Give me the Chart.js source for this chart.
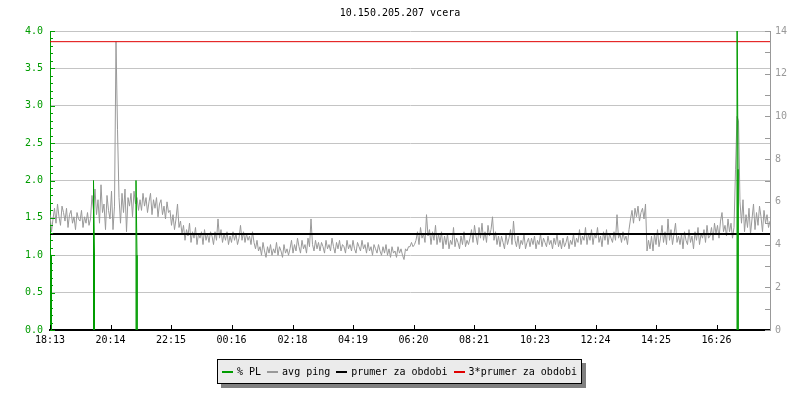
<!DOCTYPE html>
<html>
<head>
<title>10.150.205.207 vcera</title>
<script src="https://cdn.jsdelivr.net/npm/chart.js"></script>
<style>
  body { margin: 0; background: #fff; font-family: "DejaVu Sans Mono", monospace; }
  #wrap { position: relative; width: 800px; height: 400px; }
  #title { position: absolute; top: 7px; left: 0; width: 800px; text-align: center; font-size: 10px; line-height: 12px; color: #000; }
  #legend { position: absolute; left: 217px; top: 359px; height: 23px; padding: 0 4px; background: #ebebeb;
            border: 1px solid #000; box-shadow: 4px 4px 0 #808080; display: flex; align-items: center;
            font-size: 10px; white-space: nowrap; color: #000; }
  .it { display: flex; align-items: center; margin-right: 6px; }
  .it:last-child { margin-right: 0; }
  .ln { display: inline-block; width: 11px; height: 2px; margin-right: 4px; }
</style>
</head>
<body>
<div id="wrap">
  <canvas id="chart" width="800" height="400"></canvas>
  <div id="title">10.150.205.207 vcera</div>
  <div id="legend"></div>
</div>
<script>
// x axis labels (clock times, first = start of the period)
const tickLabels = ['18:13','20:14','22:15','00:16','02:18','04:19','06:20','08:21','10:23','12:24','14:25','16:26'];
const periodMinutes = 1440;

// avg ping [ms], one reading every 3 minutes from 18:13 (20 per hour)
const pingStep = 3;
const pingAvg = [
  5.4,4.6,5.2,5.7,5.0,5.9,5.3,4.9,5.8,5.5,5.1,5.7,4.8,5.4,5.6,5.0,5.3,4.7,5.5,5.2,
  5.1,5.6,4.8,5.3,5.0,5.5,4.9,5.2,6.3,5.6,6.6,5.4,6.1,5.0,6.8,5.5,5.9,4.7,6.3,5.6,
  5.2,6.5,4.7,5.8,13.5,9.4,6.2,5.0,6.4,5.5,6.6,4.6,6.2,5.8,6.4,5.3,6.5,5.9,6.2,5.6,
  6.1,5.6,6.4,5.8,6.2,5.5,6.0,6.4,5.4,6.1,5.7,6.2,5.3,5.9,6.1,5.4,5.8,5.2,6.0,5.5,
  5.6,4.9,5.4,4.7,5.2,5.9,4.8,5.1,4.5,4.9,4.2,4.7,4.4,5.0,4.1,4.6,4.3,4.8,4.0,4.5,
  4.3,4.6,4.0,4.7,4.2,4.5,4.1,4.6,4.4,4.0,4.6,4.2,5.2,4.3,4.7,4.1,4.5,4.2,4.6,4.0,
  4.4,4.1,4.6,4.2,4.5,4.0,4.3,4.9,4.2,4.6,4.1,4.5,4.2,4.4,4.0,4.6,4.1,3.8,4.2,3.7,
  3.9,3.5,4.1,3.7,3.4,3.9,3.6,4.0,3.5,3.8,3.6,4.1,3.5,3.9,3.7,3.4,4.0,3.6,3.8,3.5,
  3.8,4.2,3.6,4.0,3.7,4.3,3.9,3.6,4.2,3.8,4.0,3.6,4.3,3.9,5.2,4.0,3.7,4.2,3.8,4.1,
  3.7,4.1,3.9,3.6,4.2,3.8,4.0,3.7,4.3,3.9,3.6,4.1,3.8,4.2,3.7,4.0,3.9,3.6,4.2,3.8,
  4.0,3.7,4.2,3.8,3.6,4.1,3.9,3.7,4.2,3.8,4.0,3.6,4.1,3.7,3.9,3.5,4.0,3.8,3.6,4.0,
  3.7,3.5,3.9,3.6,4.0,3.5,3.8,3.4,3.9,3.6,3.7,3.4,3.9,3.6,3.8,3.5,3.3,3.8,3.7,3.9,
  3.9,4.1,3.9,4.0,4.2,4.6,4.0,4.8,4.3,4.5,4.1,5.4,4.4,4.7,4.0,4.6,4.2,4.9,4.0,4.5,
  4.1,4.6,3.8,4.4,4.0,4.5,3.8,4.2,4.0,4.8,3.9,4.3,4.1,3.8,4.4,4.0,4.6,3.9,4.2,4.0,
  4.3,4.7,4.1,4.9,4.4,4.0,4.8,4.3,5.0,4.2,4.6,4.1,4.9,4.4,4.7,5.3,4.2,4.6,4.0,4.4,
  3.9,4.4,4.1,3.8,4.5,4.0,4.3,4.7,4.0,5.1,4.2,3.9,4.4,3.8,4.2,4.0,4.5,3.8,4.1,4.3,
  3.9,4.3,4.0,4.4,3.8,4.2,4.0,4.5,3.9,4.3,4.1,3.9,4.4,4.0,4.2,3.8,4.3,4.0,4.5,3.9,
  4.2,3.8,4.3,3.9,4.1,4.4,3.8,4.2,4.0,4.5,3.9,4.3,4.1,4.7,4.0,4.4,4.2,4.8,4.0,4.5,
  4.2,4.7,4.0,4.5,4.3,4.8,4.1,4.4,3.9,4.6,4.2,4.7,4.0,4.5,4.3,4.1,4.6,4.2,5.4,4.3,
  4.5,4.1,4.6,4.2,4.4,4.0,4.7,5.2,5.6,5.0,5.7,5.3,5.8,5.1,5.5,5.7,5.2,5.9,3.7,4.2,
  3.8,4.4,3.7,4.5,4.0,4.7,3.9,4.3,4.9,4.1,4.6,4.0,5.2,4.2,4.7,4.0,4.5,5.0,4.1,4.4,
  4.0,4.5,3.8,4.6,4.2,4.0,4.7,4.1,4.4,3.8,4.6,4.2,4.8,4.0,4.5,4.3,4.7,4.1,4.9,4.3,
  4.4,4.8,4.2,5.0,4.5,4.9,4.3,5.1,5.5,4.6,4.9,4.4,5.2,4.6,5.0,4.3,4.8,7.5,10.0,9.8,
  6.0,5.0,6.1,4.6,5.4,4.8,5.7,4.5,5.2,5.9,4.7,5.5,4.9,5.8,5.3,4.6,5.6,5.0,5.4,4.8,
  5.1
];

// % packet loss spikes: minute of period, peak value, value one step later
const plMinutes = [1, 87, 172, 1374];
const plPeak    = [1.0, 2.0, 2.0, 4.6];
const plTail    = [1.0, 1.0, 1.0, 2.15];

// average ping over the period [ms]
const prumer = 4.5;

const GREEN = '#009c00';
const GREY = '#999999';
const FONT = { family: '"DejaVu Sans Mono", monospace', size: 10 };

function toMinutes(label) {
  const [h, m] = label.split(':').map(Number);
  const [h0, m0] = tickLabels[0].split(':').map(Number);
  return ((h * 60 + m) - (h0 * 60 + m0) + 1440) % 1440;
}
const tickMinutes = tickLabels.map(toMinutes);

const pingPoints = pingAvg.map((v, i) => ({ x: i * pingStep, y: v }));
const plPoints = [];
plMinutes.forEach((t, i) => {
  plPoints.push({ x: t, y: 0 }, { x: t, y: plPeak[i] }, { x: t + 2, y: plTail[i] }, { x: t + 2, y: 0 }, { x: t + 3, y: null });
});

// inward tick marks like the original
const tickMarks = {
  id: 'tickMarks',
  afterDraw(chart) {
    const { ctx, chartArea: a, scales } = chart;
    ctx.save();
    ctx.lineWidth = 1;
    ctx.strokeStyle = GREEN;
    for (let i = 0; i <= 40; i++) {
      const y = Math.round(scales.y.getPixelForValue(i / 10)) + 0.5;
      const len = i % 5 === 0 ? 5 : 3;
      ctx.beginPath(); ctx.moveTo(a.left, y); ctx.lineTo(a.left + len, y); ctx.stroke();
    }
    ctx.strokeStyle = GREY;
    for (let i = 0; i <= 14; i++) {
      const y = Math.round(scales.y2.getPixelForValue(i)) + 0.5;
      ctx.beginPath(); ctx.moveTo(a.right - 5, y); ctx.lineTo(a.right, y); ctx.stroke();
    }
    ctx.strokeStyle = '#000';
    tickMinutes.forEach(t => {
      const x = Math.round(scales.x.getPixelForValue(t)) + 0.5;
      ctx.beginPath(); ctx.moveTo(x, a.bottom); ctx.lineTo(x, a.bottom - 5); ctx.stroke();
    });
    ctx.restore();
  }
};

new Chart(document.getElementById('chart'), {
  type: 'line',
  data: {
    datasets: [
      { label: '% PL', data: plPoints, yAxisID: 'y', borderColor: GREEN, borderWidth: 1, pointRadius: 0, spanGaps: false, order: 0 },
      { label: 'prumer za obdobi', data: [{ x: 0, y: prumer }, { x: periodMinutes, y: prumer }], yAxisID: 'y2', borderColor: '#000', borderWidth: 2, pointRadius: 0, order: 1 },
      { label: '3*prumer za obdobi', data: [{ x: 0, y: 3 * prumer }, { x: periodMinutes, y: 3 * prumer }], yAxisID: 'y2', borderColor: '#e00000', borderWidth: 1, pointRadius: 0, order: 2 },
      { label: 'avg ping', data: pingPoints, yAxisID: 'y2', borderColor: GREY, borderWidth: 1, pointRadius: 0, tension: 0, order: 3 }
    ]
  },
  options: {
    responsive: false,
    animation: false,
    devicePixelRatio: 1,
    layout: { padding: { top: 31, left: 0, right: 0, bottom: 0 } },
    plugins: { legend: { display: false }, tooltip: { enabled: false }, title: { display: false } },
    scales: {
      x: {
        type: 'linear', min: 0, max: periodMinutes,
        afterFit(s) { s.height = 70; },
        afterBuildTicks(s) { s.ticks = tickMinutes.map(v => ({ value: v })); },
        ticks: { callback: (v, i) => tickLabels[i], color: '#000', font: FONT, padding: 4, maxRotation: 0, autoSkip: false },
        grid: { display: false, drawTicks: false },
        border: { color: '#000', width: 2 }
      },
      y: {
        position: 'left', min: 0, max: 4,
        afterFit(s) { s.width = 50; },
        ticks: { stepSize: 0.5, callback: v => v.toFixed(1), color: GREEN, font: FONT, padding: 7 },
        grid: { color: '#c4c4c4', drawTicks: false },
        border: { color: GREEN, width: 1 }
      },
      y2: {
        position: 'right', min: 0, max: 14,
        afterFit(s) { s.width = 30; },
        ticks: { stepSize: 2, color: GREY, font: FONT, padding: 5 },
        grid: { display: false, drawTicks: false },
        border: { color: GREY, width: 1 }
      }
    }
  },
  plugins: [tickMarks]
});

// legend
const legendItems = [['% PL', GREEN], ['avg ping', GREY], ['prumer za obdobi', '#000'], ['3*prumer za obdobi', '#e00000']];
document.getElementById('legend').innerHTML = legendItems
  .map(([t, c]) => `<span class="it"><span class="ln" style="background:${c}"></span>${t}</span>`).join('');
</script>
</body>
</html>
